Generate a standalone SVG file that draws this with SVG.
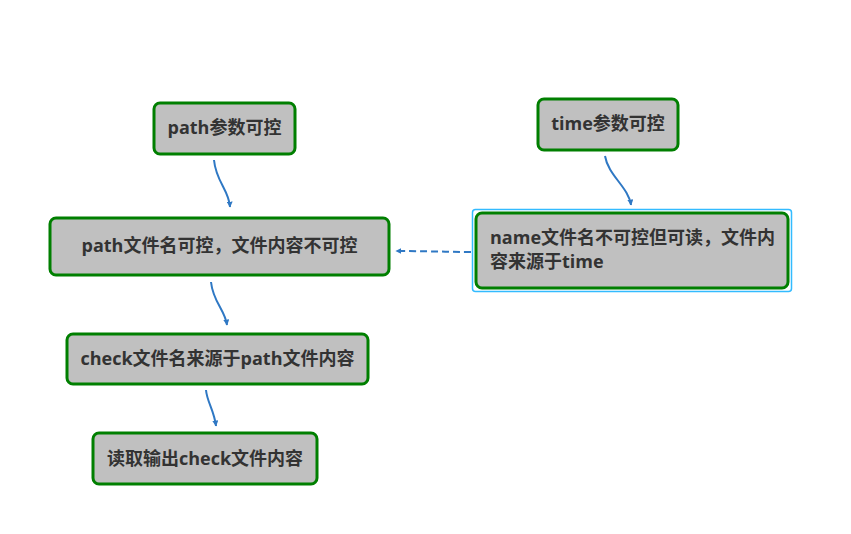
<svg xmlns="http://www.w3.org/2000/svg" width="851" height="534" viewBox="0 0 851 534">
<style>
.box{fill:#c0c0c0;stroke:#007f00;stroke-width:3}
.t{font-family:"Open Sans","Noto Sans CJK SC",sans-serif;font-weight:bold;font-size:18px;fill:#333}
.c{fill:none;stroke:#2f78c4;stroke-width:2}
</style>
<defs>
<marker id="ah" viewBox="0 0 10 10" refX="9" refY="5" markerWidth="6" markerHeight="6" orient="auto" markerUnits="userSpaceOnUse">
<path d="M0,0 L10,5 L0,10 z" fill="#2f78c4"/>
</marker>
</defs>
<rect width="851" height="534" fill="#fff"/>
<g id="connectors">
<path class="c" d="M214,160 C216,182 229,190 230,207" marker-end="url(#ah)"/>
<path class="c" d="M605,156 C608,175 629,188 631,205" marker-end="url(#ah)"/>
<path class="c" d="M211,282 C213,302 225,310 227,325" marker-end="url(#ah)"/>
<path class="c" d="M206,390 C207,402 214,410 216,426" marker-end="url(#ah)"/>
<path class="c" d="M471,252 C445,252 430,251 396,251" stroke-dasharray="7,4" marker-end="url(#ah)"/>
</g>
<g id="n1">
<rect class="box" x="154" y="103" width="141" height="51" rx="6"/>
<text class="t" x="224.5" y="134" text-anchor="middle">path参数可控</text>
</g>
<g id="n2">
<rect class="box" x="538" y="99" width="140" height="51" rx="6"/>
<text class="t" x="608" y="130" text-anchor="middle">time参数可控</text>
</g>
<g id="n3">
<rect class="box" x="50" y="218" width="339" height="57" rx="6"/>
<text class="t" x="219.5" y="252" text-anchor="middle">path文件名可控，文件内容不可控</text>
</g>
<g id="n4">
<rect x="472.5" y="209.5" width="319" height="82" rx="3" fill="none" stroke="#33bbff" stroke-width="1.5"/>
<rect class="box" x="476" y="213" width="312" height="75" rx="6"/>
<text class="t" x="490" y="244">name文件名不可控但可读，文件内</text>
<text class="t" x="490" y="268">容来源于time</text>
</g>
<g id="n5">
<rect class="box" x="67" y="334" width="301" height="50" rx="6"/>
<text class="t" x="217.5" y="365" text-anchor="middle">check文件名来源于path文件内容</text>
</g>
<g id="n6">
<rect class="box" x="93" y="433" width="224" height="51" rx="6"/>
<text class="t" x="205" y="465" text-anchor="middle">读取输出check文件内容</text>
</g>
</svg>
